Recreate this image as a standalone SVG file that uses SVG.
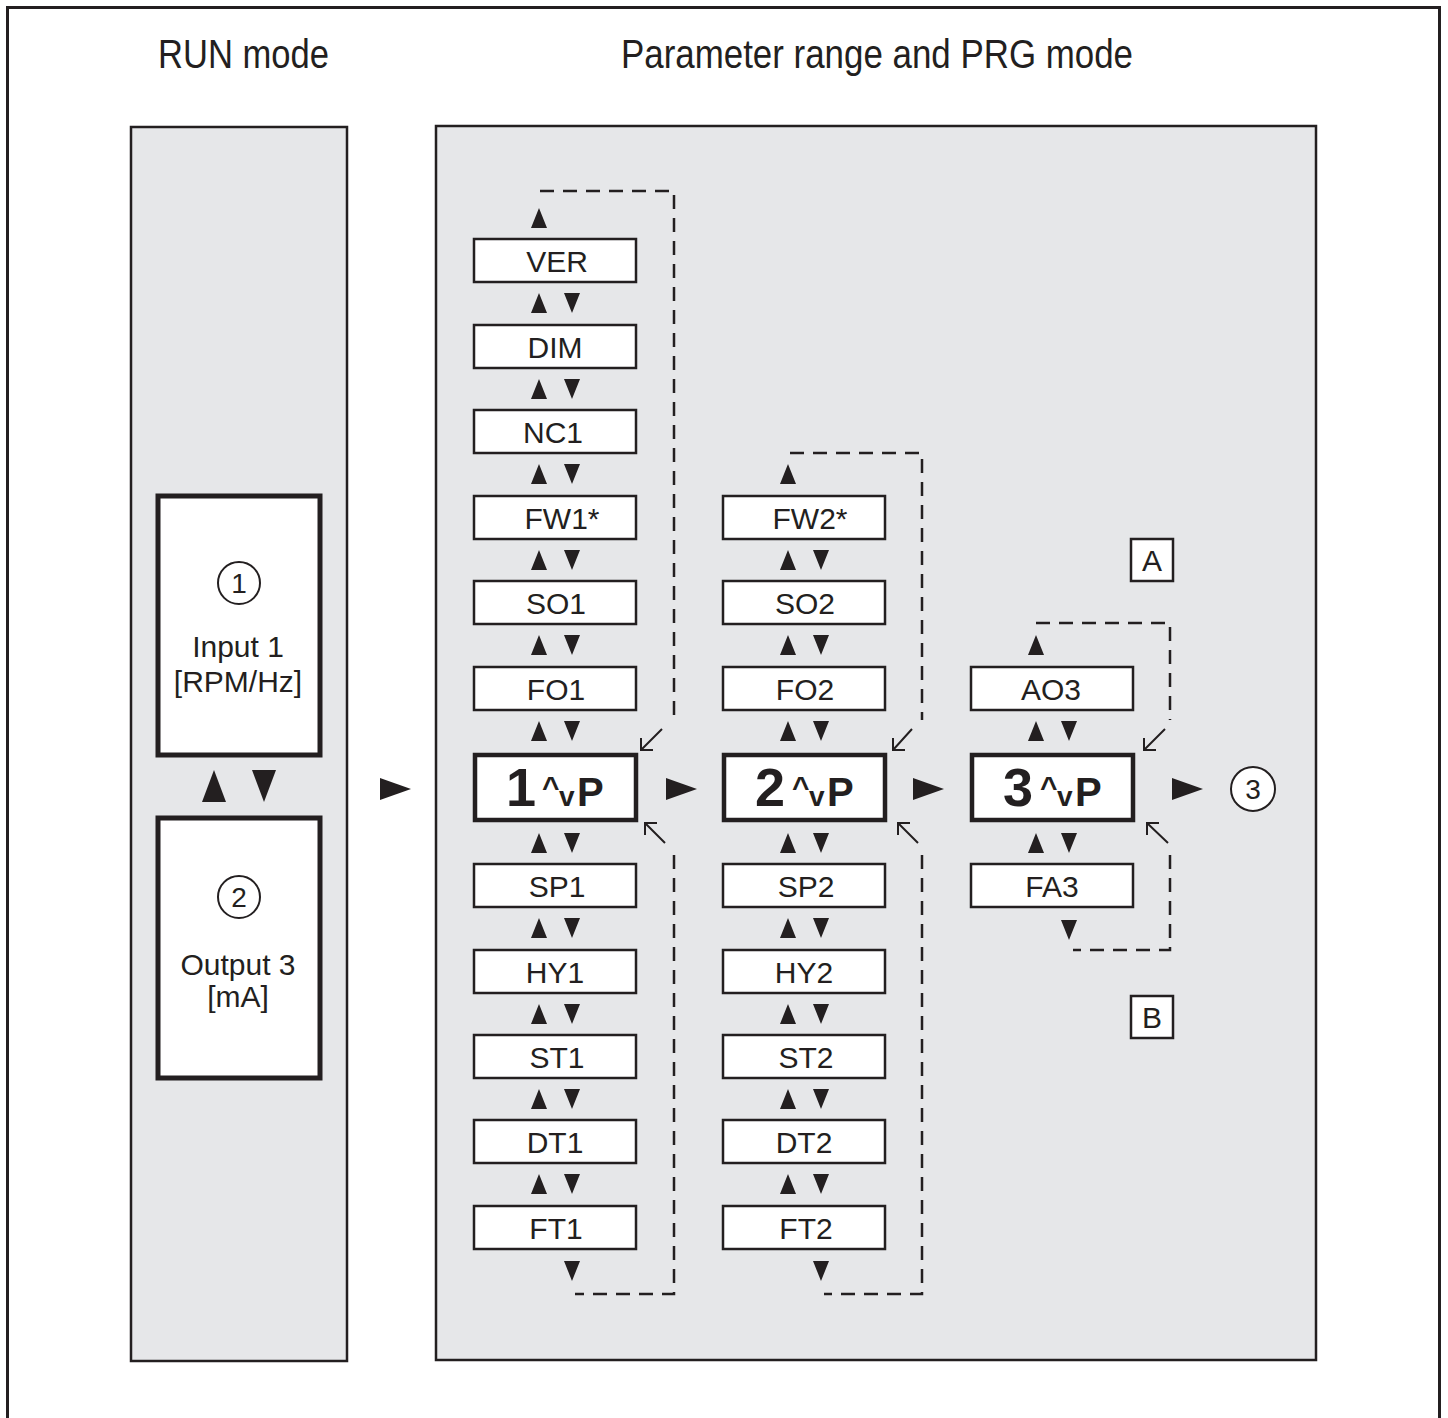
<svg xmlns="http://www.w3.org/2000/svg" xmlns:xlink="http://www.w3.org/1999/xlink" width="1448" height="1418" viewBox="0 0 1448 1418">
<style>
.frame{fill:#fff;stroke:#231f20;stroke-width:3}
.panel{fill:#e6e7e9;stroke:#231f20;stroke-width:2.5}
.box{fill:#fff;stroke:#231f20;stroke-width:2.5}
.main{fill:#fff;stroke:#231f20;stroke-width:4.5}
.run{fill:#fff;stroke:#231f20;stroke-width:5}
.lbl{font-family:"Liberation Sans",Arial,sans-serif;font-size:30px;fill:#231f20;text-anchor:middle}
.num{font-family:"Liberation Sans",Arial,sans-serif;font-size:28px;fill:#231f20;text-anchor:middle}
.title{font-family:"Liberation Sans",Arial,sans-serif;font-size:40px;fill:#231f20}
.b{font-family:"Liberation Sans",Arial,sans-serif;font-weight:bold;fill:#231f20}
.dash{fill:none;stroke:#231f20;stroke-width:2.5;stroke-dasharray:14 9}
.thin{fill:none;stroke:#231f20;stroke-width:2}
.tri{fill:#231f20}
.circ{fill:#fff;stroke:#231f20;stroke-width:2}
</style>
<defs>
<path id="up" d="M0,0 L8,20 L-8,20 Z" class="tri"/>
<path id="dn" d="M0,20 L8,0 L-8,0 Z" class="tri"/>
<path id="rt" d="M0,0 L31,11 L0,22 Z" class="tri"/>
<path id="bup" d="M0,0 L12,32 L-12,32 Z" class="tri"/>
<path id="bdn" d="M0,32 L12,0 L-12,0 Z" class="tri"/>
</defs>
<rect x="7.5" y="7.5" width="1432" height="1440" class="frame"/>
<text class="title" x="158" y="68" textLength="171" lengthAdjust="spacingAndGlyphs">RUN mode</text>
<text class="title" x="621" y="68" textLength="512" lengthAdjust="spacingAndGlyphs">Parameter range and PRG mode</text>
<rect x="131" y="127" width="216" height="1234" class="panel"/>
<rect x="436" y="126" width="880" height="1234" class="panel"/>

<g id="run-input">
<rect x="158" y="496" width="162" height="259" class="run"/>
<circle cx="239" cy="583" r="21" class="circ"/>
<text class="num" x="239" y="593">1</text>
<text class="lbl" x="238" y="657">Input 1</text>
<text class="lbl" x="238" y="692">[RPM/Hz]</text>
</g>
<g id="run-output">
<rect x="158" y="818" width="162" height="260" class="run"/>
<circle cx="239" cy="897" r="21" class="circ"/>
<text class="num" x="239" y="907">2</text>
<text class="lbl" x="238" y="975">Output 3</text>
<text class="lbl" x="238" y="1007">[mA]</text>
</g>

<g id="col1">
<g id="VER"><rect x="474" y="239" width="162" height="43" class="box"/><text class="lbl" x="557" y="272">VER</text></g>
<g id="DIM"><rect x="474" y="325" width="162" height="43" class="box"/><text class="lbl" x="555" y="358">DIM</text></g>
<g id="NC1"><rect x="474" y="410" width="162" height="43" class="box"/><text class="lbl" x="553" y="443">NC1</text></g>
<g id="FW1"><rect x="474" y="496" width="162" height="43" class="box"/><text class="lbl" x="562" y="529">FW1*</text></g>
<g id="SO1"><rect x="474" y="581" width="162" height="43" class="box"/><text class="lbl" x="556" y="614">SO1</text></g>
<g id="FO1"><rect x="474" y="667" width="162" height="43" class="box"/><text class="lbl" x="556" y="700">FO1</text></g>
<g id="P1"><rect x="475" y="755" width="161" height="65" class="main"/>
<text class="b" x="506" y="806" font-size="54">1</text>
<text class="b" x="542" y="797" font-size="30">^</text>
<text class="b" x="559" y="806" font-size="28">v</text>
<text class="b" x="577" y="806" font-size="40">P</text></g>
<g id="SP1"><rect x="474" y="864" width="162" height="43" class="box"/><text class="lbl" x="557" y="897">SP1</text></g>
<g id="HY1"><rect x="474" y="950" width="162" height="43" class="box"/><text class="lbl" x="555" y="983">HY1</text></g>
<g id="ST1"><rect x="474" y="1035" width="162" height="43" class="box"/><text class="lbl" x="557" y="1068">ST1</text></g>
<g id="DT1"><rect x="474" y="1120" width="162" height="43" class="box"/><text class="lbl" x="555" y="1153">DT1</text></g>
<g id="FT1"><rect x="474" y="1206" width="162" height="43" class="box"/><text class="lbl" x="556" y="1239">FT1</text></g>
</g>

<g id="col2">
<g id="FW2"><rect x="723" y="496" width="162" height="43" class="box"/><text class="lbl" x="810" y="529">FW2*</text></g>
<g id="SO2"><rect x="723" y="581" width="162" height="43" class="box"/><text class="lbl" x="805" y="614">SO2</text></g>
<g id="FO2"><rect x="723" y="667" width="162" height="43" class="box"/><text class="lbl" x="805" y="700">FO2</text></g>
<g id="P2"><rect x="724" y="755" width="161" height="65" class="main"/>
<text class="b" x="755" y="806" font-size="54">2</text>
<text class="b" x="792" y="797" font-size="30">^</text>
<text class="b" x="809" y="806" font-size="28">v</text>
<text class="b" x="827" y="806" font-size="40">P</text></g>
<g id="SP2"><rect x="723" y="864" width="162" height="43" class="box"/><text class="lbl" x="806" y="897">SP2</text></g>
<g id="HY2"><rect x="723" y="950" width="162" height="43" class="box"/><text class="lbl" x="804" y="983">HY2</text></g>
<g id="ST2"><rect x="723" y="1035" width="162" height="43" class="box"/><text class="lbl" x="806" y="1068">ST2</text></g>
<g id="DT2"><rect x="723" y="1120" width="162" height="43" class="box"/><text class="lbl" x="804" y="1153">DT2</text></g>
<g id="FT2"><rect x="723" y="1206" width="162" height="43" class="box"/><text class="lbl" x="806" y="1239">FT2</text></g>
</g>

<g id="col3">
<g id="AO3"><rect x="971" y="667" width="162" height="43" class="box"/><text class="lbl" x="1051" y="700">AO3</text></g>
<g id="P3"><rect x="972" y="755" width="161" height="65" class="main"/>
<text class="b" x="1003" y="806" font-size="54">3</text>
<text class="b" x="1040" y="797" font-size="30">^</text>
<text class="b" x="1057" y="806" font-size="28">v</text>
<text class="b" x="1075" y="806" font-size="40">P</text></g>
<g id="FA3"><rect x="971" y="864" width="162" height="43" class="box"/><text class="lbl" x="1052" y="897">FA3</text></g>
</g>

<g id="out3">
<circle cx="1253" cy="789" r="22" class="circ"/>
<text class="num" x="1253" y="799">3</text>
</g>
<g id="labelA"><rect x="1131" y="539" width="42" height="42" class="box"/><text class="lbl" x="1152" y="571">A</text></g>
<g id="labelB"><rect x="1131" y="996" width="42" height="42" class="box"/><text class="lbl" x="1152" y="1028">B</text></g>

<g id="connectors">
<use href="#bup" x="214" y="770"/>
<use href="#bdn" x="264" y="770"/>
<use href="#rt" x="380" y="778"/>
<use href="#rt" x="666" y="778"/>
<use href="#rt" x="913" y="778"/>
<use href="#rt" x="1172" y="778"/>
<use href="#up" x="539" y="208"/>
<use href="#up" x="539" y="293"/><use href="#dn" x="572" y="293"/>
<use href="#up" x="539" y="379"/><use href="#dn" x="572" y="379"/>
<use href="#up" x="539" y="464"/><use href="#dn" x="572" y="464"/>
<use href="#up" x="539" y="550"/><use href="#dn" x="572" y="550"/>
<use href="#up" x="539" y="635"/><use href="#dn" x="572" y="635"/>
<use href="#up" x="539" y="721"/><use href="#dn" x="572" y="721"/>
<use href="#up" x="539" y="833"/><use href="#dn" x="572" y="833"/>
<use href="#up" x="539" y="918"/><use href="#dn" x="572" y="918"/>
<use href="#up" x="539" y="1004"/><use href="#dn" x="572" y="1004"/>
<use href="#up" x="539" y="1089"/><use href="#dn" x="572" y="1089"/>
<use href="#up" x="539" y="1174"/><use href="#dn" x="572" y="1174"/>
<use href="#dn" x="572" y="1261"/>
<use href="#up" x="788" y="464"/>
<use href="#up" x="788" y="550"/><use href="#dn" x="821" y="550"/>
<use href="#up" x="788" y="635"/><use href="#dn" x="821" y="635"/>
<use href="#up" x="788" y="721"/><use href="#dn" x="821" y="721"/>
<use href="#up" x="788" y="833"/><use href="#dn" x="821" y="833"/>
<use href="#up" x="788" y="918"/><use href="#dn" x="821" y="918"/>
<use href="#up" x="788" y="1004"/><use href="#dn" x="821" y="1004"/>
<use href="#up" x="788" y="1089"/><use href="#dn" x="821" y="1089"/>
<use href="#up" x="788" y="1174"/><use href="#dn" x="821" y="1174"/>
<use href="#dn" x="821" y="1261"/>
<use href="#up" x="1036" y="635"/>
<use href="#up" x="1036" y="721"/><use href="#dn" x="1069" y="721"/>
<use href="#up" x="1036" y="833"/><use href="#dn" x="1069" y="833"/>
<use href="#dn" x="1069" y="920"/>
<path class="dash" d="M540,191 H674 V720"/>
<path class="dash" d="M674,855 V1294 H575"/>
<path class="dash" d="M790,453 H922 V720"/>
<path class="dash" d="M922,855 V1294 H824"/>
<path class="dash" d="M1036,623 H1170 V720"/>
<path class="dash" d="M1170,855 V950 H1073"/>
<path class="thin" d="M662,729 L641,750 M641,738 V750 H653"/>
<path class="thin" d="M665,843 L645,823 M645,835 V823 H657"/>
<path class="thin" d="M912,729 L893,750 M893,738 V750 H905"/>
<path class="thin" d="M918,843 L898,823 M898,835 V823 H910"/>
<path class="thin" d="M1165,729 L1144,750 M1144,738 V750 H1156"/>
<path class="thin" d="M1168,843 L1147,823 M1147,835 V823 H1159"/>
</g>
</svg>
